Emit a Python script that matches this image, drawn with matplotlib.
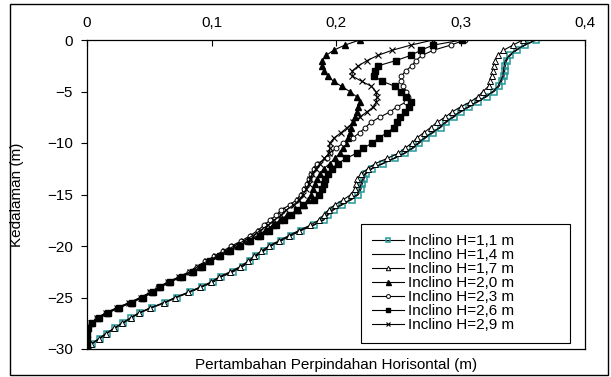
import matplotlib
matplotlib.use('Agg')
import matplotlib.pyplot as plt
from matplotlib.patches import Rectangle
from matplotlib.ticker import FuncFormatter

plt.rcParams['font.family'] = ['Liberation Sans', 'DejaVu Sans']

# depth below surface (m), every 0.5 m
depth = [0, -0.5, -1, -1.5, -2, -2.5, -3, -3.5, -4, -4.5,
         -5, -5.5, -6, -6.5, -7, -7.5, -8, -8.5, -9, -9.5,
         -10, -10.5, -11, -11.5, -12, -12.5, -13, -13.5, -14, -14.5,
         -15, -15.5, -16, -16.5, -17, -17.5, -18, -18.5, -19, -19.5,
         -20, -20.5, -21, -21.5, -22, -22.5, -23, -23.5, -24, -24.5,
         -25, -25.5, -26, -26.5, -27, -27.5, -28, -28.5, -29, -29.5, -30]

# horizontal displacement increment (m) per inclinometer
h_11 = [.361, .352, .345, .340, .337, .336, .3355, .335, .333, .331,
        .327, .321, .314, .307, .300, .2945, .2885, .284, .278, .272,
        .267, .262, .2555, .247, .238, .229, .224, .2225, .221, .220,
        .218, .2125, .205, .198, .1935, .190, .182, .172, .164, .156,
        .148, .142, .136, .131, .125, .1175, .108, .1015, .092, .0825,
        .072, .063, .052, .0425, .0355, .029, .0225, .016, .0105, .004, .001]
h_14 = [.360, .351, .344, .339, .336, .335, .3345, .334, .332, .330,
        .326, .320, .313, .306, .299, .2935, .2875, .283, .277, .271,
        .266, .261, .2545, .246, .237, .228, .223, .2215, .220, .219,
        .217, .2115, .204, .197, .1925, .189, .181, .171, .163, .155,
        .147, .141, .135, .130, .124, .1165, .107, .1005, .091, .0815,
        .071, .062, .051, .0415, .0345, .028, .0215, .015, .0095, .0035, .001]
h_17 = [.350, .342, .3345, .330, .3277, .327, .326, .325, .324, .3225,
        .318, .314, .308, .300, .293, .2875, .281, .276, .2705, .265,
        .261, .2555, .250, .241, .2315, .2255, .220, .217, .216, .215,
        .212, .206, .199, .194, .190, .186, .179, .170, .162, .154,
        .146, .140, .134, .129, .123, .115, .106, .0995, .0905, .081,
        .071, .062, .051, .042, .035, .0285, .022, .0155, .010, .0035, .001]
h_20 = [.219, .207, .198, .192, .189, .1885, .190, .1935, .198, .2045,
        .211, .2165, .219, .218, .217, .215, .2135, .212, .211, .210,
        .208, .206, .203, .199, .195, .190, .187, .1845, .183, .1815,
        .180, .1775, .174, .1695, .161, .155, .149, .143, .137, .129,
        .121, .113, .106, .098, .091, .084, .075, .066, .058, .052,
        .044, .035, .025, .016, .009, .003, .001, 0, 0, 0, 0]
h_23 = [.3035, .292, .278, .269, .264, .261, .256, .2525, .2525, .254,
        .2565, .258, .2565, .249, .243, .235, .228, .2235, .219, .2135,
        .206, .200, .195, .193, .1845, .182, .180, .178, .1765, .1745,
        .1715, .1685, .163, .156, .152, .147, .142, .137, .131, .124,
        .116, .109, .102, .095, .088, .082, .074, .065, .057, .051,
        .043, .034, .024, .015, .008, .003, .001, 0, 0, 0, 0]
h_26 = [.301, .278, .268, .260, .248, .234, .231, .2305, .237, .2475,
        .2525, .2565, .2605, .2585, .2555, .2515, .249, .2465, .241, .2345,
        .229, .222, .2165, .208, .2015, .1965, .1935, .191, .1905, .189,
        .186, .182, .1737, .169, .164, .158, .152, .146, .139, .131,
        .123, .115, .107, .099, .092, .085, .076, .067, .059, .053,
        .045, .036, .026, .017, .010, .004, .001, 0, 0, 0, 0]
h_29 = [.278, .260, .245, .2335, .225, .218, .213, .213, .2205, .2285,
        .232, .233, .2325, .230, .2245, .219, .214, .209, .204, .1985,
        .195, .195, .1945, .1905, .187, .184, .181, .1795, .178, .176,
        .1735, .1705, .166, .160, .156, .150, .145, .139, .133, .126,
        .118, .111, .104, .096, .089, .083, .074, .065, .058, .051,
        .043, .034, .024, .015, .008, .003, .001, 0, 0, 0, 0]

labels = ['Inclino H=1,1 m', 'Inclino H=1,4 m', 'Inclino H=1,7 m', 'Inclino H=2,0 m',
          'Inclino H=2,3 m', 'Inclino H=2,6 m', 'Inclino H=2,9 m']

fig = plt.figure(figsize=(6.11, 3.77), dpi=100)
ax = fig.add_axes([87 / 611, 28 / 377, 498 / 611, 309 / 377])

lw = 0.8
ax.plot(h_11, depth, color='black', lw=lw, marker='s', ms=3.8, mfc='none',
        mec='#23999a', mew=1.1, label=labels[0])
ax.plot(h_14, depth, color='black', lw=lw, label=labels[1])
ax.plot(h_17, depth, color='black', lw=lw, marker='^', ms=4, mfc='white',
        mec='black', mew=0.7, label=labels[2])
ax.plot(h_20, depth, color='black', lw=lw, marker='^', ms=4.5, mfc='black',
        mec='black', label=labels[3])
ax.plot(h_23, depth, color='black', lw=lw, marker='o', ms=3.5, mfc='white',
        mec='black', mew=0.7, label=labels[4])
ax.plot(h_26, depth, color='black', lw=lw, marker='s', ms=4, mfc='black',
        mec='black', label=labels[5])
ax.plot(h_29, depth, color='black', lw=lw, marker='x', ms=4, mec='black',
        mew=0.8, label=labels[6])

ax.set_xlim(0, 0.4)
ax.set_ylim(-30, 0)
ax.set_xticks([0, 0.1, 0.2, 0.3, 0.4])
ax.set_yticks([0, -5, -10, -15, -20, -25, -30])
ax.xaxis.set_major_formatter(FuncFormatter(lambda v, p: ('%g' % round(v, 2)).replace('.', ',')))
ax.xaxis.tick_top()
ax.tick_params(axis='x', direction='in', length=4, labelsize=11, pad=7, width=0.8)
ax.tick_params(axis='y', direction='out', length=4, labelsize=11, pad=6, width=0.8)
for s in ax.spines.values():
    s.set_linewidth(0.9)

ax.xaxis.set_label_position('bottom')
ax.set_xlabel('Pertambahan Perpindahan Horisontal (m)', fontsize=11)
ax.xaxis.set_label_coords(0.5, -0.028)
ax.set_ylabel('Kedalaman (m)', fontsize=11)
ax.yaxis.set_label_coords(-0.141, 0.5)
ax.yaxis.label.set_va('center')

leg = ax.legend(loc='lower left', bbox_to_anchor=(0.55, 0.019, 0.42, 0.382),
                mode='expand', fontsize=11, frameon=True, fancybox=False,
                edgecolor='black', framealpha=1, handlelength=2.1,
                handletextpad=0.3, labelspacing=0.0, borderpad=0.7,
                borderaxespad=0, markerscale=0.8)
leg.get_frame().set_linewidth(0.8)

# outer chart border
fig.patches.append(Rectangle((10 / 611, 2 / 377), 598 / 611, 371 / 377, fill=False,
                             edgecolor='black', lw=1, transform=fig.transFigure))

plt.savefig('out.png', dpi=100)
